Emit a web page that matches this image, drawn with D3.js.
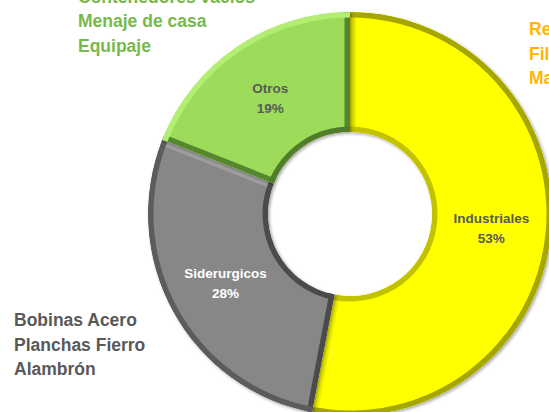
<!DOCTYPE html>
<html>
<head>
<meta charset="utf-8">
<script src="https://d3js.org/d3.v7.min.js"></script>
<style>
  body { margin: 0; background: #fff; overflow: hidden; }
  text { font-family: "Liberation Sans", Arial, sans-serif; font-weight: bold; }
</style>
</head>
<body>
<script>
// slice data (clockwise from 12 o'clock)
var categories = ["Industriales", "Siderurgicos", "Otros"];
var shares = [53, 28, 19];
var sliceColors = ["#ffff00", "#878787", "#9cdc5a"];
// bevel colours per slice: [start edge, end edge, outer arc, inner arc]
var bevelColors = [
  ["#e4e400", "#f0f000", "#a6a600", "#c2c200"],
  ["#4c4c4c", "#9e9e9e", "#5c5c5c", "#4c4c4c"],
  ["#56872f", "#56872f", "#b2ee72", "#4f7d2c"]
];
var labelColors = ["#595959", "#ffffff", "#595959"];

// side notes
var notesOtros = ["Contenedores vacíos", "Menaje de casa", "Equipaje"];
var notesSider = ["Bobinas Acero", "Planchas Fierro", "Alambrón"];
var notesIndus = ["Repuestos", "Filtros", "Maquinaria"];

var width = 549, height = 412;
var cx = 350, cy = 214, rOut = 202, rIn = 82, bevel = 5.5;

var svg = d3.select("body").append("svg")
  .attr("width", width)
  .attr("height", height);

var defs = svg.append("defs");
var shadow = defs.append("filter").attr("id", "shadow")
  .attr("x", "-10%").attr("y", "-10%").attr("width", "120%").attr("height", "120%");
shadow.append("feDropShadow")
  .attr("dx", 1.5).attr("dy", 1.5).attr("stdDeviation", 1.5)
  .attr("flood-color", "#000").attr("flood-opacity", 0.35);

var pie = d3.pie().sort(null).value(function(d) { return d; });
var arcs = pie(shares);
var total = d3.sum(shares);

var arc = d3.arc().innerRadius(rIn).outerRadius(rOut);
var outerBand = d3.arc().innerRadius(rOut - bevel).outerRadius(rOut);
var innerBand = d3.arc().innerRadius(rIn).outerRadius(rIn + bevel);

// strip along a radial edge, pushed into the slice by `bevel`
function edgeBand(angle, dir) {
  var nx = Math.cos(angle) * dir * bevel, ny = Math.sin(angle) * dir * bevel;
  var p = function(r) { return [r * Math.sin(angle), -r * Math.cos(angle)]; };
  var a = p(rIn - 2), b = p(rOut + 2);
  return d3.line()([a, b, [b[0] + nx, b[1] + ny], [a[0] + nx, a[1] + ny]]) + "Z";
}

var donut = svg.append("g")
  .attr("transform", "translate(" + cx + "," + cy + ")");

arcs.forEach(function(a, i) {
  defs.append("clipPath").attr("id", "clip" + i)
    .append("path").attr("d", arc(a));
});

var slices = donut.selectAll("g.slice")
  .data(arcs)
  .enter()
  .append("g")
  .attr("class", "slice")
  .attr("filter", "url(#shadow)");

var body = slices.append("g")
  .attr("clip-path", function(d, i) { return "url(#clip" + i + ")"; });
body.append("path")
  .attr("d", arc)
  .attr("fill", function(d, i) { return sliceColors[i]; });
body.append("path")
  .attr("d", function(d) { return edgeBand(d.startAngle, 1); })
  .attr("fill", function(d, i) { return bevelColors[i][0]; });
body.append("path")
  .attr("d", function(d) { return edgeBand(d.endAngle, -1); })
  .attr("fill", function(d, i) { return bevelColors[i][1]; });
body.append("path")
  .attr("d", outerBand)
  .attr("fill", function(d, i) { return bevelColors[i][2]; });
body.append("path")
  .attr("d", innerBand)
  .attr("fill", function(d, i) { return bevelColors[i][3]; });

// slice labels at the centroid
var labels = donut.selectAll("text.lbl")
  .data(arcs)
  .enter()
  .append("text")
  .attr("class", "lbl")
  .attr("transform", function(d) { return "translate(" + arc.centroid(d) + ")"; })
  .attr("text-anchor", "middle")
  .style("font-size", "13.5px")
  .attr("fill", function(d, i) { return labelColors[i]; });
labels.append("tspan")
  .attr("x", 0).attr("y", -4)
  .text(function(d, i) { return categories[i]; });
labels.append("tspan")
  .attr("x", 0).attr("y", 16)
  .text(function(d) { return Math.round(d.value / total * 100) + "%"; });

// side notes
function notes(lines, x, y0, color) {
  svg.append("g").selectAll("text")
    .data(lines)
    .enter()
    .append("text")
    .attr("x", x)
    .attr("y", function(d, i) { return y0 + i * 24.5; })
    .attr("fill", color)
    .style("font-size", "17.5px")
    .text(function(d) { return d; });
}
notes(notesOtros, 78, 2.5, "#78b84c");
notes(notesSider, 14, 326, "#595959");
notes(notesIndus, 529, 35, "#ffb600");
</script>
</body>
</html>
